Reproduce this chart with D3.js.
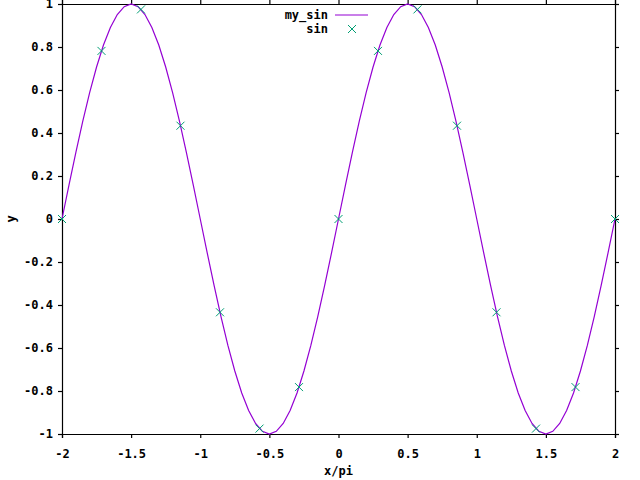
<!DOCTYPE html>
<html>
<head>
<meta charset="utf-8">
<script src="https://cdn.jsdelivr.net/npm/d3@7"></script>
<style>
  body { margin: 0; background: #fff; }
  text { font-family: "DejaVu Sans Mono", monospace; font-weight: bold; font-size: 12px; fill: #000; }
</style>
</head>
<body>
<div id="chart"></div>
<script>
// curve samples (x/pi, y)
var curveX = [-2,-1.95,-1.9,-1.85,-1.8,-1.75,-1.7,-1.65,-1.6,-1.55,-1.5,-1.45,-1.4,-1.35,-1.3,-1.25,-1.2,-1.15,-1.1,-1.05,
  -1,-0.95,-0.9,-0.85,-0.8,-0.75,-0.7,-0.65,-0.6,-0.55,-0.5,-0.45,-0.4,-0.35,-0.3,-0.25,-0.2,-0.15,-0.1,-0.05,
  0,0.05,0.1,0.15,0.2,0.25,0.3,0.35,0.4,0.45,0.5,0.55,0.6,0.65,0.7,0.75,0.8,0.85,0.9,0.95,
  1,1.05,1.1,1.15,1.2,1.25,1.3,1.35,1.4,1.45,1.5,1.55,1.6,1.65,1.7,1.75,1.8,1.85,1.9,1.95,2];
var curveY = [0,0.1564,0.309,0.454,0.5878,0.7071,0.809,0.891,0.9511,0.9877,1,0.9877,0.9511,0.891,0.809,0.7071,0.5878,0.454,0.309,0.1564,
  0,-0.1564,-0.309,-0.454,-0.5878,-0.7071,-0.809,-0.891,-0.9511,-0.9877,-1,-0.9877,-0.9511,-0.891,-0.809,-0.7071,-0.5878,-0.454,-0.309,-0.1564,
  0,0.1564,0.309,0.454,0.5878,0.7071,0.809,0.891,0.9511,0.9877,1,0.9877,0.9511,0.891,0.809,0.7071,0.5878,0.454,0.309,0.1564,
  0,-0.1564,-0.309,-0.454,-0.5878,-0.7071,-0.809,-0.891,-0.9511,-0.9877,-1,-0.9877,-0.9511,-0.891,-0.809,-0.7071,-0.5878,-0.454,-0.309,-0.1564,0];

// sampled points
var ptX = [-2,-1.7143,-1.4286,-1.1429,-0.8571,-0.5714,-0.2857,0,0.2857,0.5714,0.8571,1.1429,1.4286,1.7143,2];
var ptY = [0,0.7818,0.9749,0.4339,-0.4339,-0.9749,-0.7818,0,0.7818,0.9749,0.4339,-0.4339,-0.9749,-0.7818,0];

var xTicks = [-2,-1.5,-1,-0.5,0,0.5,1,1.5,2];
var yTicks = [-1,-0.8,-0.6,-0.4,-0.2,0,0.2,0.4,0.6,0.8,1];

var W = 640, H = 480;
var plotL = 62, plotR = 615, plotT = 4, plotB = 434;

var svg = d3.select('#chart').append('svg')
    .attr('width', W).attr('height', H);

var x = d3.scaleLinear().domain([-2, 2]).range([plotL, plotR]);
var y = d3.scaleLinear().domain([-1, 1]).range([plotB, plotT]);

var fmt = function (d) { return String(d); };

// axes (ticks outward, mirrored)
svg.append('g').attr('transform', 'translate(0,' + plotB + ')')
    .call(d3.axisBottom(x).tickValues(xTicks).tickFormat(fmt).tickSize(4).tickPadding(11));
svg.append('g').attr('transform', 'translate(0,' + plotT + ')')
    .call(d3.axisTop(x).tickValues(xTicks).tickFormat('').tickSize(4));
svg.append('g').attr('transform', 'translate(' + plotL + ',0)')
    .call(d3.axisLeft(y).tickValues(yTicks).tickFormat(fmt).tickSize(4).tickPadding(5));
svg.append('g').attr('transform', 'translate(' + plotR + ',0)')
    .call(d3.axisRight(y).tickValues(yTicks).tickFormat('').tickSize(4));

svg.selectAll('.domain').attr('stroke', '#000').attr('stroke-width', 1.2);
svg.selectAll('.tick line').attr('stroke', '#000').attr('stroke-width', 1.2);
svg.selectAll('.tick text').style('font-family', '"DejaVu Sans Mono", monospace')
    .style('font-weight', 'bold').style('font-size', '12px').attr('fill', '#000');

// axis titles
svg.append('text').attr('x', (plotL + plotR) / 2).attr('y', 475)
    .attr('text-anchor', 'middle').text('x/pi');
svg.append('text').attr('transform', 'translate(15,' + ((plotT + plotB) / 2) + ') rotate(-90)')
    .attr('text-anchor', 'middle').text('y');

// curve
var curve = curveX.map(function (d, i) { return [d, curveY[i]]; });
svg.append('path').datum(curve)
    .attr('fill', 'none').attr('stroke', '#9400d3').attr('stroke-width', 1.2)
    .attr('d', d3.line().x(function (d) { return x(d[0]); }).y(function (d) { return y(d[1]); }));

// points
var cross = function (cx, cy) {
  var s = 4;
  return 'M' + (cx - s) + ',' + (cy - s) + 'L' + (cx + s) + ',' + (cy + s) +
         'M' + (cx - s) + ',' + (cy + s) + 'L' + (cx + s) + ',' + (cy - s);
};
svg.selectAll('.pt').data(ptX).enter().append('path')
    .attr('class', 'pt')
    .attr('fill', 'none').attr('stroke', '#009e73').attr('stroke-width', 1)
    .attr('d', function (d, i) { return cross(x(d), y(ptY[i])); });

// legend
svg.append('text').attr('x', 328).attr('y', 19).attr('text-anchor', 'end').text('my_sin');
svg.append('line').attr('x1', 335).attr('x2', 368).attr('y1', 15).attr('y2', 15)
    .attr('stroke', '#9400d3').attr('stroke-width', 1.2);
svg.append('text').attr('x', 328).attr('y', 33).attr('text-anchor', 'end').text('sin');
svg.append('path').attr('fill', 'none').attr('stroke', '#009e73').attr('stroke-width', 1)
    .attr('d', cross(352, 29));
</script>
</body>
</html>
